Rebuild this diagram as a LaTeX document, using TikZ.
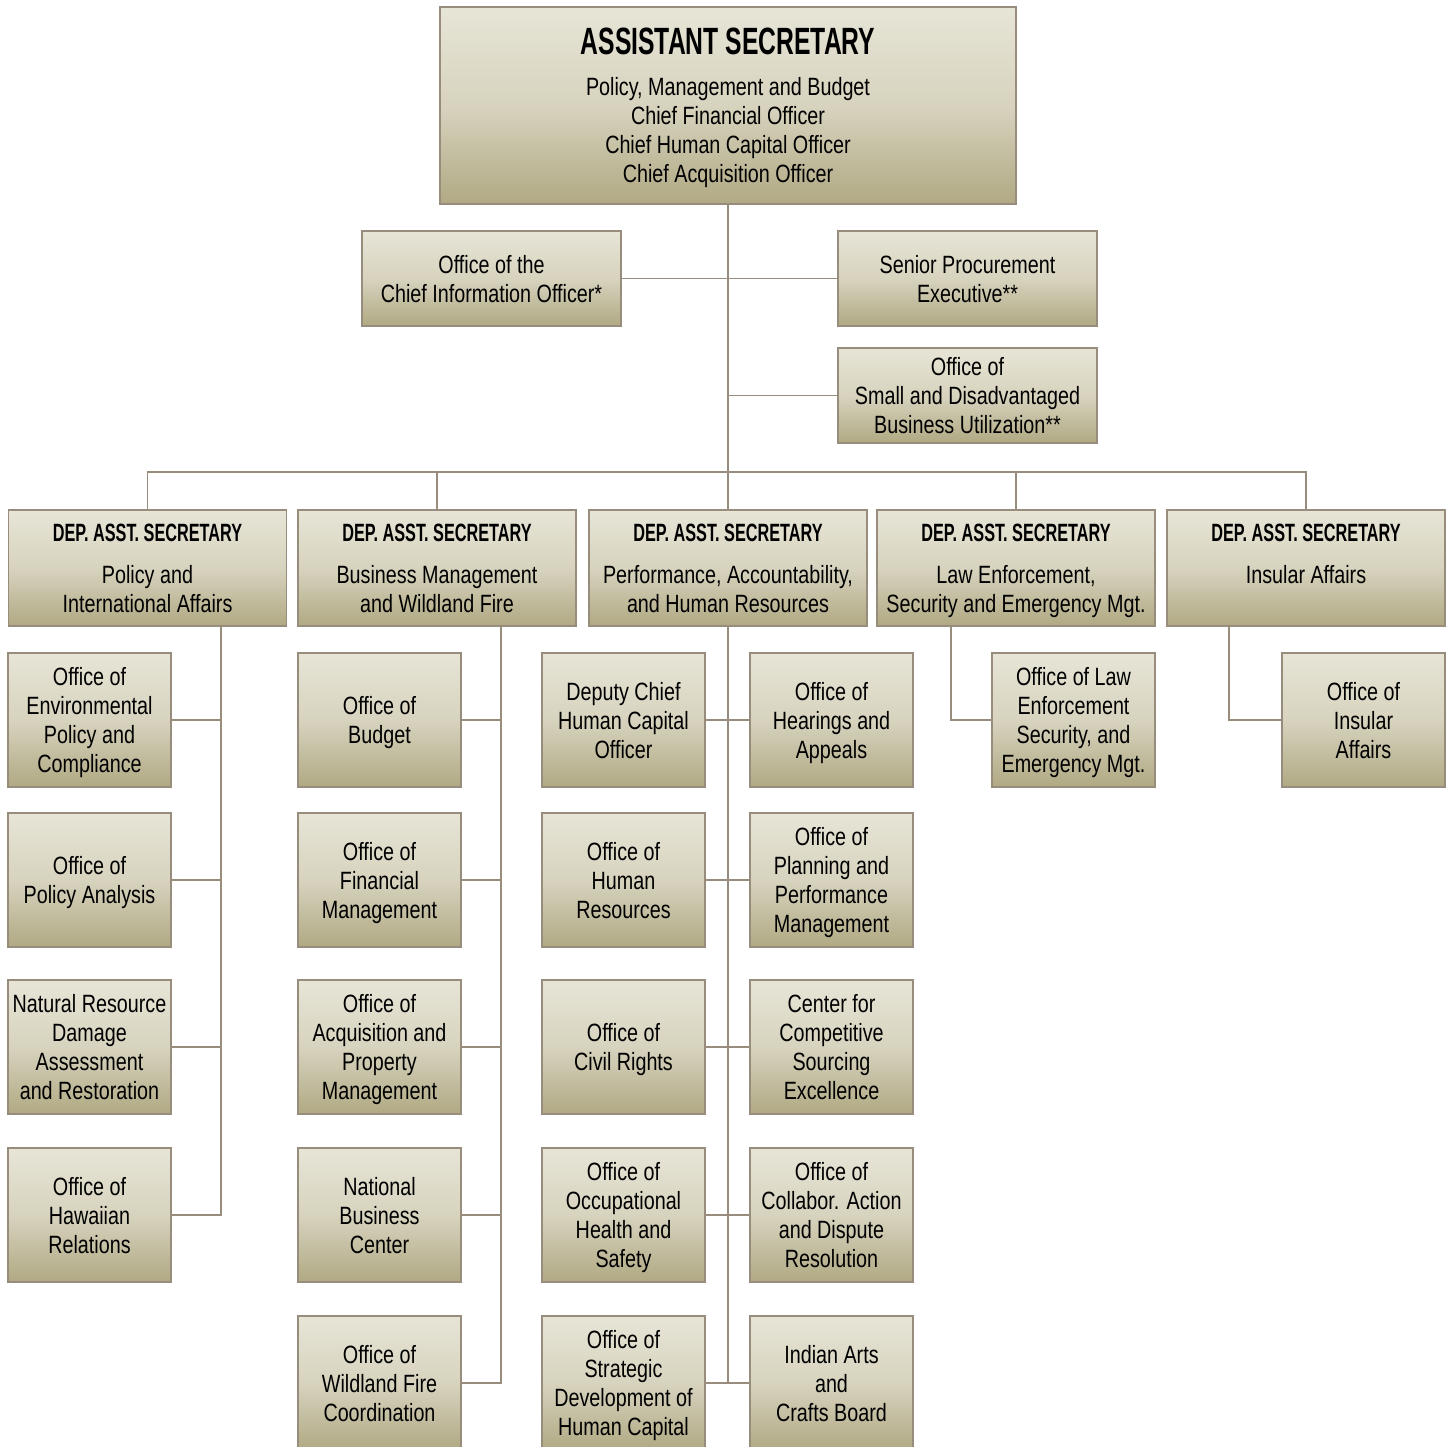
\documentclass[tikz,border=0pt]{standalone}
\usepackage{fontspec}
\setmainfont{Liberation Sans}[FakeStretch=0.79]
\newfontfamily\headfont{Liberation Sans}[FakeStretch=0.65]
\usepackage{xcolor}
\definecolor{boxtop}{RGB}{231,229,215}
\definecolor{boxmid}{RGB}{215,211,190}
\definecolor{boxbot}{RGB}{176,169,131}
\definecolor{rule}{RGB}{152,140,125}
\newcommand{\dasline}{{\headfont\bfseries DEP. ASST. SECRETARY}\\[13pt]}
\tikzset{box/.style={draw=rule, line width=1.6pt, top color=boxtop,
   bottom color=boxbot, middle color=boxmid, align=center, inner sep=0pt,
   text depth=0pt, font=\fontsize{25}{29}\selectfont},
 office/.style={box, minimum width=163pt, minimum height=134pt},
 staff/.style={box, minimum width=259pt, minimum height=95pt},
 deputy/.style={box, minimum width=278pt, minimum height=116pt},
 link/.style={draw=rule, line width=1.6pt},
 }

\begin{document}
\begin{tikzpicture}[x=1pt, y=-1pt]
    \useasboundingbox (0,0) rectangle (1448,1447);
    % assistant secretary and staff offices
    \node[box, minimum width=576pt, minimum height=197pt] (asec) at (728, 105.5)
        {{\headfont\bfseries\fontsize{38}{40}\selectfont ASSISTANT SECRETARY}\\[12pt]
         Policy, Management and Budget\\Chief Financial Officer\\
         Chief Human Capital Officer\\Chief Acquisition Officer};
    \node[staff] (cio) at (491.5, 278.5) {Office of the\\Chief Information Officer*};
    \node[staff] (spe) at (967.5, 278.5) {Senior Procurement\\Executive**};
    \node[staff] (osdbu) at (967.5, 395.5) {Office of\\Small and Disadvantaged\\Business Utilization**};

    % deputy assistant secretaries
    \node[deputy] (pia) at (147.5, 568) {\dasline Policy and\\International Affairs};
    \node[deputy] (bmw) at (437, 568) {\dasline Business Management\\and Wildland Fire};
    \node[deputy] (pah) at (728, 568) {\dasline Performance, Accountability,\\and Human Resources};
    \node[deputy] (lese) at (1016, 568) {\dasline Law Enforcement,\\Security and Emergency Mgt.};
    \node[deputy] (ins) at (1306, 568) {\dasline Insular Affairs\\~};

    % policy and international affairs
    \node[office] (epc) at (89.5, 720) {Office of\\Environmental\\Policy and\\Compliance};
    \node[office] (opa) at (89.5, 880) {Office of\\Policy Analysis};
    \node[office] (nrd) at (89.5, 1047) {Natural Resource\\Damage\\Assessment\\and Restoration};
    \node[office] (ohr) at (89.5, 1215) {Office of\\Hawaiian\\Relations};

    % business management and wildland fire
    \node[office] (bud) at (379.5, 720) {Office of\\Budget};
    \node[office] (fin) at (379.5, 880) {Office of\\Financial\\Management};
    \node[office] (apm) at (379.5, 1047) {Office of\\Acquisition and\\Property\\Management};
    \node[office] (nbc) at (379.5, 1215) {National\\Business\\Center};
    \node[office] (wfc) at (379.5, 1383) {Office of\\Wildland Fire\\Coordination};

    % performance, accountability and human resources
    \node[office] (dhc) at (623.5, 720) {Deputy Chief\\Human Capital\\Officer};
    \node[office] (hum) at (623.5, 880) {Office of\\Human\\Resources};
    \node[office] (ocr) at (623.5, 1047) {Office of\\Civil Rights};
    \node[office] (ohs) at (623.5, 1215) {Office of\\Occupational\\Health and\\Safety};
    \node[office] (sdh) at (623.5, 1383) {Office of\\Strategic\\Development of\\Human Capital};
    \node[office] (oha) at (831.5, 720) {Office of\\Hearings and\\Appeals};
    \node[office] (ppm) at (831.5, 880) {Office of\\Planning and\\Performance\\Management};
    \node[office] (css) at (831.5, 1047) {Center for\\Competitive\\Sourcing\\Excellence};
    \node[office] (cadr) at (831.5, 1215) {Office of\\Collabor. Action\\and Dispute\\Resolution};
    \node[office] (iacb) at (831.5, 1383) {Indian Arts\\and\\Crafts Board};

    % law enforcement and insular affairs
    \node[office] (olesem) at (1073.5, 720) {Office of Law\\Enforcement\\Security, and\\Emergency Mgt.};
    \node[office] (oia) at (1363.5, 720) {Office of\\Insular\\Affairs};

    % connectors
    \coordinate (bus) at (728, 472);
    \coordinate (spine1) at (221, 626);
    \coordinate (spine2) at (501, 626);
    \coordinate (spine4) at (951, 626);
    \coordinate (spine5) at (1229, 626);
    \draw[link] (asec.south) -- (pah.north);
    \draw[link] (cio.east) -- (spe.west);
    \draw[link] (osdbu.west) -- (osdbu.west -| asec.south);
    \draw[link] (pia.north) |- (bus) -| (ins.north);
    \draw[link] (bmw.north) -- (bmw.north |- bus);
    \draw[link] (lese.north) -- (lese.north |- bus);

    \draw[link] (spine1) |- (ohr.east);
    \draw[link] (epc.east) -- (epc.east -| spine1);
    \draw[link] (opa.east) -- (opa.east -| spine1);
    \draw[link] (nrd.east) -- (nrd.east -| spine1);

    \draw[link] (spine2) |- (wfc.east);
    \draw[link] (bud.east) -- (bud.east -| spine2);
    \draw[link] (fin.east) -- (fin.east -| spine2);
    \draw[link] (apm.east) -- (apm.east -| spine2);
    \draw[link] (nbc.east) -- (nbc.east -| spine2);

    \draw[link] (pah.south) -- (pah.south |- sdh.east);
    \draw[link] (dhc.east) -- (oha.west);
    \draw[link] (hum.east) -- (ppm.west);
    \draw[link] (ocr.east) -- (css.west);
    \draw[link] (ohs.east) -- (cadr.west);
    \draw[link] (sdh.east) -- (iacb.west);

    \draw[link] (spine4) |- (olesem.west);
    \draw[link] (spine5) |- (oia.west);
\end{tikzpicture}
\end{document}
